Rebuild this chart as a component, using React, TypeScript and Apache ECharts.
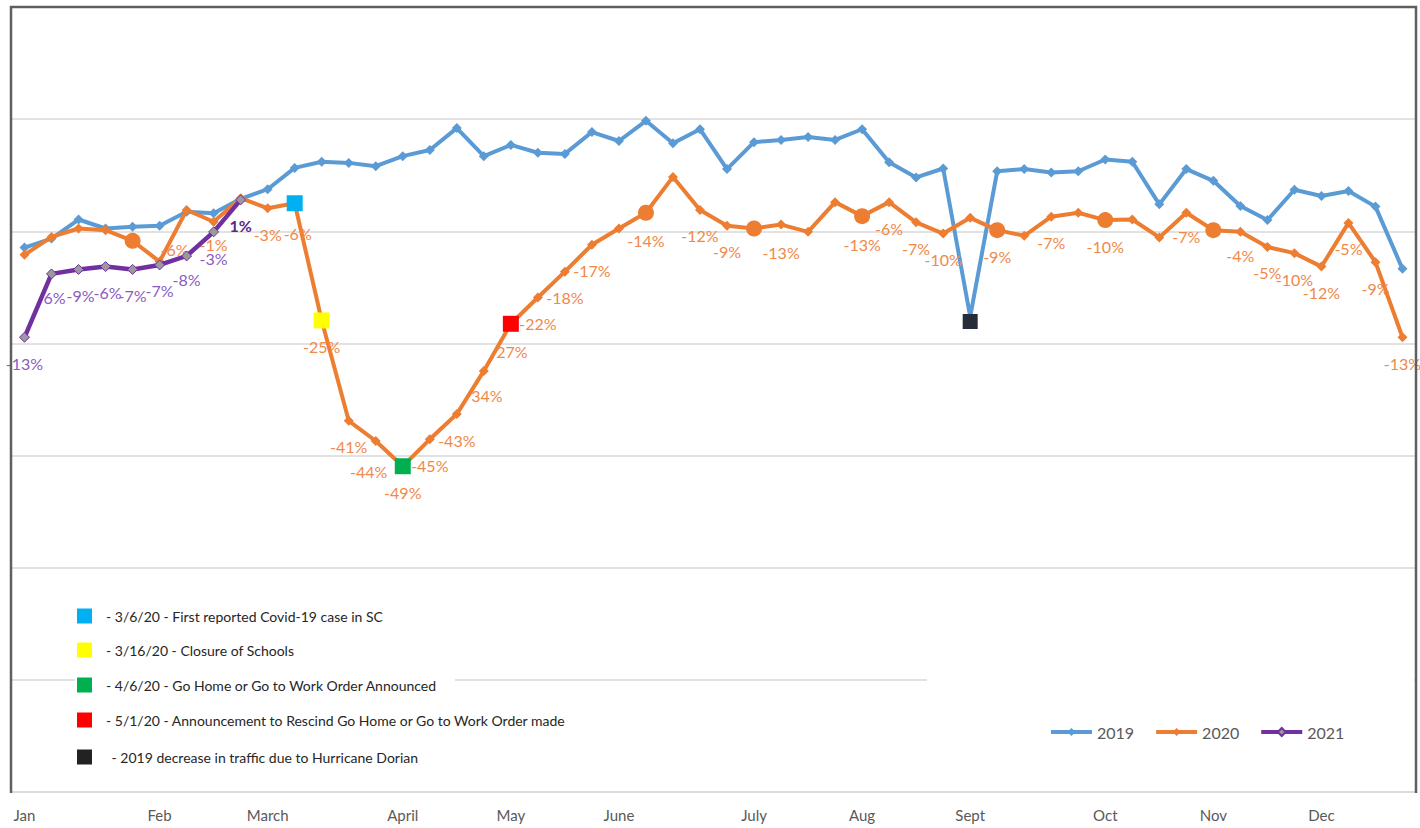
import React, { useEffect, useRef } from "react";
import * as echarts from "echarts";

// ---- data ----
const weeks: string[] = Array.from({ length: 52 }, (_, i) => `Week ${i + 1}`);
const monthLabels = ["Jan", "Feb", "March", "April", "May", "June", "July", "Aug", "Sept", "Oct", "Nov", "Dec"];
const monthWeekIndex = [0, 5, 9, 14, 18, 22, 27, 31, 35, 40, 44, 48];

const traffic2019 = [
  97.1, 98.7, 102.1, 100.5, 100.8, 101.0, 103.5, 103.2, 105.8, 107.5,
  111.3, 112.4, 112.2, 111.6, 113.4, 114.5, 118.4, 113.4, 115.4, 114.0,
  113.8, 117.7, 116.1, 119.7, 115.7, 118.2, 111.1, 115.9, 116.3, 116.8,
  116.3, 118.2, 112.3, 109.6, 111.2, 84.8, 110.7, 111.1, 110.5, 110.7,
  112.8, 112.4, 104.8, 111.1, 109.0, 104.5, 102.0, 107.4, 106.3, 107.2,
  104.4, 93.3,
];
const traffic2020 = [
  95.8, 99.0, 100.5, 100.2, 98.3, 94.6, 103.8, 101.7, 105.9, 104.1,
  105.0, 84.1, 66.2, 62.6, 58.1, 62.9, 67.4, 75.1, 83.5, 88.2,
  92.8, 97.6, 100.5, 103.3, 109.7, 103.8, 101.0, 100.5, 101.2, 99.9,
  105.2, 102.7, 105.2, 101.6, 99.6, 102.4, 100.2, 99.2, 102.6, 103.3,
  102.0, 102.1, 98.9, 103.3, 100.2, 99.9, 97.2, 96.1, 93.7, 101.5,
  94.5, 81.1,
];
const traffic2021 = [81.1, 92.4, 93.2, 93.7, 93.2, 94.0, 95.6, 99.9, 105.6];

const labels2020 = [
  "", "", "", "", "", "-6%", "", "-1%", "", "-3%",
  "-6%", "-25%", "-41%", "-44%", "-49%", "-45%", "-43%", "34%", "27%", "-22%",
  "-18%", "-17%", "", "-14%", "", "-12%", "-9%", "", "-13%", "",
  "", "-13%", "-6%", "-7%", "-10%", "", "-9%", "", "-7%", "",
  "-10%", "", "", "-7%", "", "-4%", "-5%", "-10%", "-12%", "-5%",
  "-9%", "-13%",
];
const labels2021 = ["-13%", "6%", "-9%", "-6%", "-7%", "-7%", "-8%", "-3%", "1%"];

const bigCircleWeeks2020 = [4, 23, 27, 31, 36, 40, 44];

const eventSeries = ["2020", "2020", "2020", "2020", "2019"];
const eventWeeks = [10, 11, 14, 18, 35];
const eventColors = ["#00B0F0", "#FFFF00", "#00B050", "#FF0000", "#262D3A"];
const eventTexts = [
  "- 3/6/20 - First reported Covid-19 case in SC",
  "- 3/16/20 - Closure of Schools",
  "- 4/6/20 - Go Home or Go to Work Order Announced",
  "- 5/1/20 - Announcement to Rescind Go Home or Go to Work Order made",
  " - 2019 decrease in traffic due to Hurricane Dorian",
];

const FONT = "Lato, 'Liberation Sans', sans-serif";
const BLUE = "#5B9BD5";
const ORANGE = "#ED7D31";
const PURPLE = "#7030A0";
const ORANGE_TXT = "#F0884A";
const PURPLE_TXT = "#8A5BC4";

const labelOffsets2020: Record<number, number[]> = {
  5: [15, -12],
  7: [0, 23],
  10: [3, 30],
  13: [-7, 31],
  17: [3, 25],
  18: [1, 28],
  23: [0, 28],
  28: [0, 28],
  31: [0, 28],
  43: [0, 24],
  45: [0, 24],
};
const labelOffsets2021: Record<number, number[]> = {
  1: [3, 24],
  2: [2, 26],
  3: [2, 26],
  6: [0, 24],
  7: [0, 27],
};

export default function App() {
  const ref = useRef<HTMLDivElement>(null);

  useEffect(() => {
    if (!ref.current) return;
    const chart = echarts.init(ref.current, undefined, { renderer: "svg" });

    const eventAt = (series: string, i: number) => {
      for (let k = 0; k < eventWeeks.length; k++) {
        if (eventSeries[k] === series && eventWeeks[k] === i) return k;
      }
      return -1;
    };

    const data2019 = traffic2019.map((v, i) => {
      const k = eventAt("2019", i);
      if (k >= 0) {
        return {
          value: v,
          symbol: "rect",
          symbolSize: 15,
          symbolOffset: [0, 5],
          itemStyle: { color: eventColors[k], borderWidth: 0 },
        };
      }
      return { value: v };
    });

    const data2020 = traffic2020.map((v, i) => {
      const item: any = { value: v };
      if (bigCircleWeeks2020.indexOf(i) >= 0) {
        item.symbol = "circle";
        item.symbolSize = 16;
      }
      const k = eventAt("2020", i);
      if (k >= 0) {
        item.symbol = "rect";
        item.symbolSize = 16;
        item.itemStyle = { color: eventColors[k] };
      }
      if (labelOffsets2020[i]) item.label = { offset: labelOffsets2020[i] };
      return item;
    });

    const data2021 = traffic2021.map((v, i) => {
      const item: any = { value: v };
      if (labelOffsets2021[i]) item.label = { offset: labelOffsets2021[i] };
      if (i === traffic2021.length - 1) {
        item.label = { ...(item.label || {}), color: "#5B2A86", fontWeight: "bold" };
      }
      return item;
    });

    const legendYs = [616, 650, 685, 720, 757];
    const legendTextX = [106, 106, 106, 106, 108];
    const graphics: any[] = [
      { type: "rect", z: 1, shape: { x: 75, y: 590, width: 380, height: 195 }, style: { fill: "#fff" } },
      { type: "rect", z: 1, shape: { x: 927, y: 600, width: 487, height: 190 }, style: { fill: "#fff" } },
      {
        type: "polyline",
        z: 20,
        shape: { points: [[11, 793], [11, 7], [1416, 7], [1416, 793]] },
        style: { stroke: "#5f5f5f", lineWidth: 2.5, fill: null },
      },
    ];
    eventTexts.forEach((t, k) => {
      graphics.push({
        type: "rect",
        z: 6,
        shape: { x: 77, y: legendYs[k] - 7.5, width: 15, height: 15 },
        style: { fill: k === 4 ? "#222222" : eventColors[k] },
      });
      graphics.push({
        type: "text",
        z: 6,
        x: legendTextX[k],
        y: legendYs[k],
        style: {
          text: t,
          fill: "#262626",
          font: `14px ${FONT}`,
          verticalAlign: "middle",
          align: "left",
        },
      });
    });

    chart.setOption({
      animation: false,
      backgroundColor: "#fff",
      textStyle: { fontFamily: FONT },
      grid: { left: 11, right: 4, top: 7, bottom: 36, containLabel: false },
      legend: {
        z: 30,
        data: ["2019", "2020", "2021"],
        left: 1044,
        top: 719,
        itemWidth: 41,
        itemHeight: 10,
        itemGap: 20,
        lineStyle: { width: 4 },
        textStyle: { color: "#595959", fontSize: 16, fontFamily: FONT },
      },
      xAxis: {
        type: "category",
        data: weeks,
        boundaryGap: true,
        axisLine: { show: true, lineStyle: { color: "#D9D9D9", width: 1.5 } },
        axisTick: { show: false },
        axisLabel: {
          interval: 0,
          margin: 15,
          color: "#595959",
          fontSize: 15,
          fontFamily: FONT,
          formatter: (_v: string, idx: number) => {
            const m = monthWeekIndex.indexOf(idx);
            return m >= 0 ? monthLabels[m] : "";
          },
        },
      },
      yAxis: {
        type: "value",
        min: 0,
        max: 140,
        interval: 20,
        axisLabel: { show: false },
        axisLine: { show: false },
        axisTick: { show: false },
        splitLine: { lineStyle: { color: "#D9D9D9", width: 1.5 } },
      },
      series: [
        {
          name: "2019",
          type: "line",
          data: data2019,
          symbol: "diamond",
          symbolSize: 10,
          lineStyle: { color: BLUE, width: 4 },
          itemStyle: { color: BLUE },
          z: 2,
        },
        {
          name: "2020",
          type: "line",
          data: data2020,
          symbol: "diamond",
          symbolSize: 10,
          lineStyle: { color: ORANGE, width: 4 },
          itemStyle: { color: ORANGE },
          z: 3,
          label: {
            show: true,
            position: "inside",
            offset: [0, 26],
            color: ORANGE_TXT,
            fontSize: 16,
            fontFamily: FONT,
            formatter: (p: any) => labels2020[p.dataIndex] || "",
          },
        },
        {
          name: "2021",
          type: "line",
          data: data2021,
          symbol: "diamond",
          symbolSize: 10,
          lineStyle: { color: PURPLE, width: 4.5 },
          itemStyle: { color: "#9A9A9A", borderColor: PURPLE, borderWidth: 1 },
          z: 4,
          label: {
            show: true,
            position: "inside",
            offset: [0, 26],
            color: PURPLE_TXT,
            fontSize: 16,
            fontFamily: FONT,
            formatter: (p: any) => labels2021[p.dataIndex] || "",
          },
        },
      ],
      graphic: graphics,
    });

    return () => chart.dispose();
  }, []);

  return (
    <div
      ref={ref}
      style={{ position: "fixed", left: 0, top: 0, width: 1420, height: 828, background: "#fff" }}
    />
  );
}
